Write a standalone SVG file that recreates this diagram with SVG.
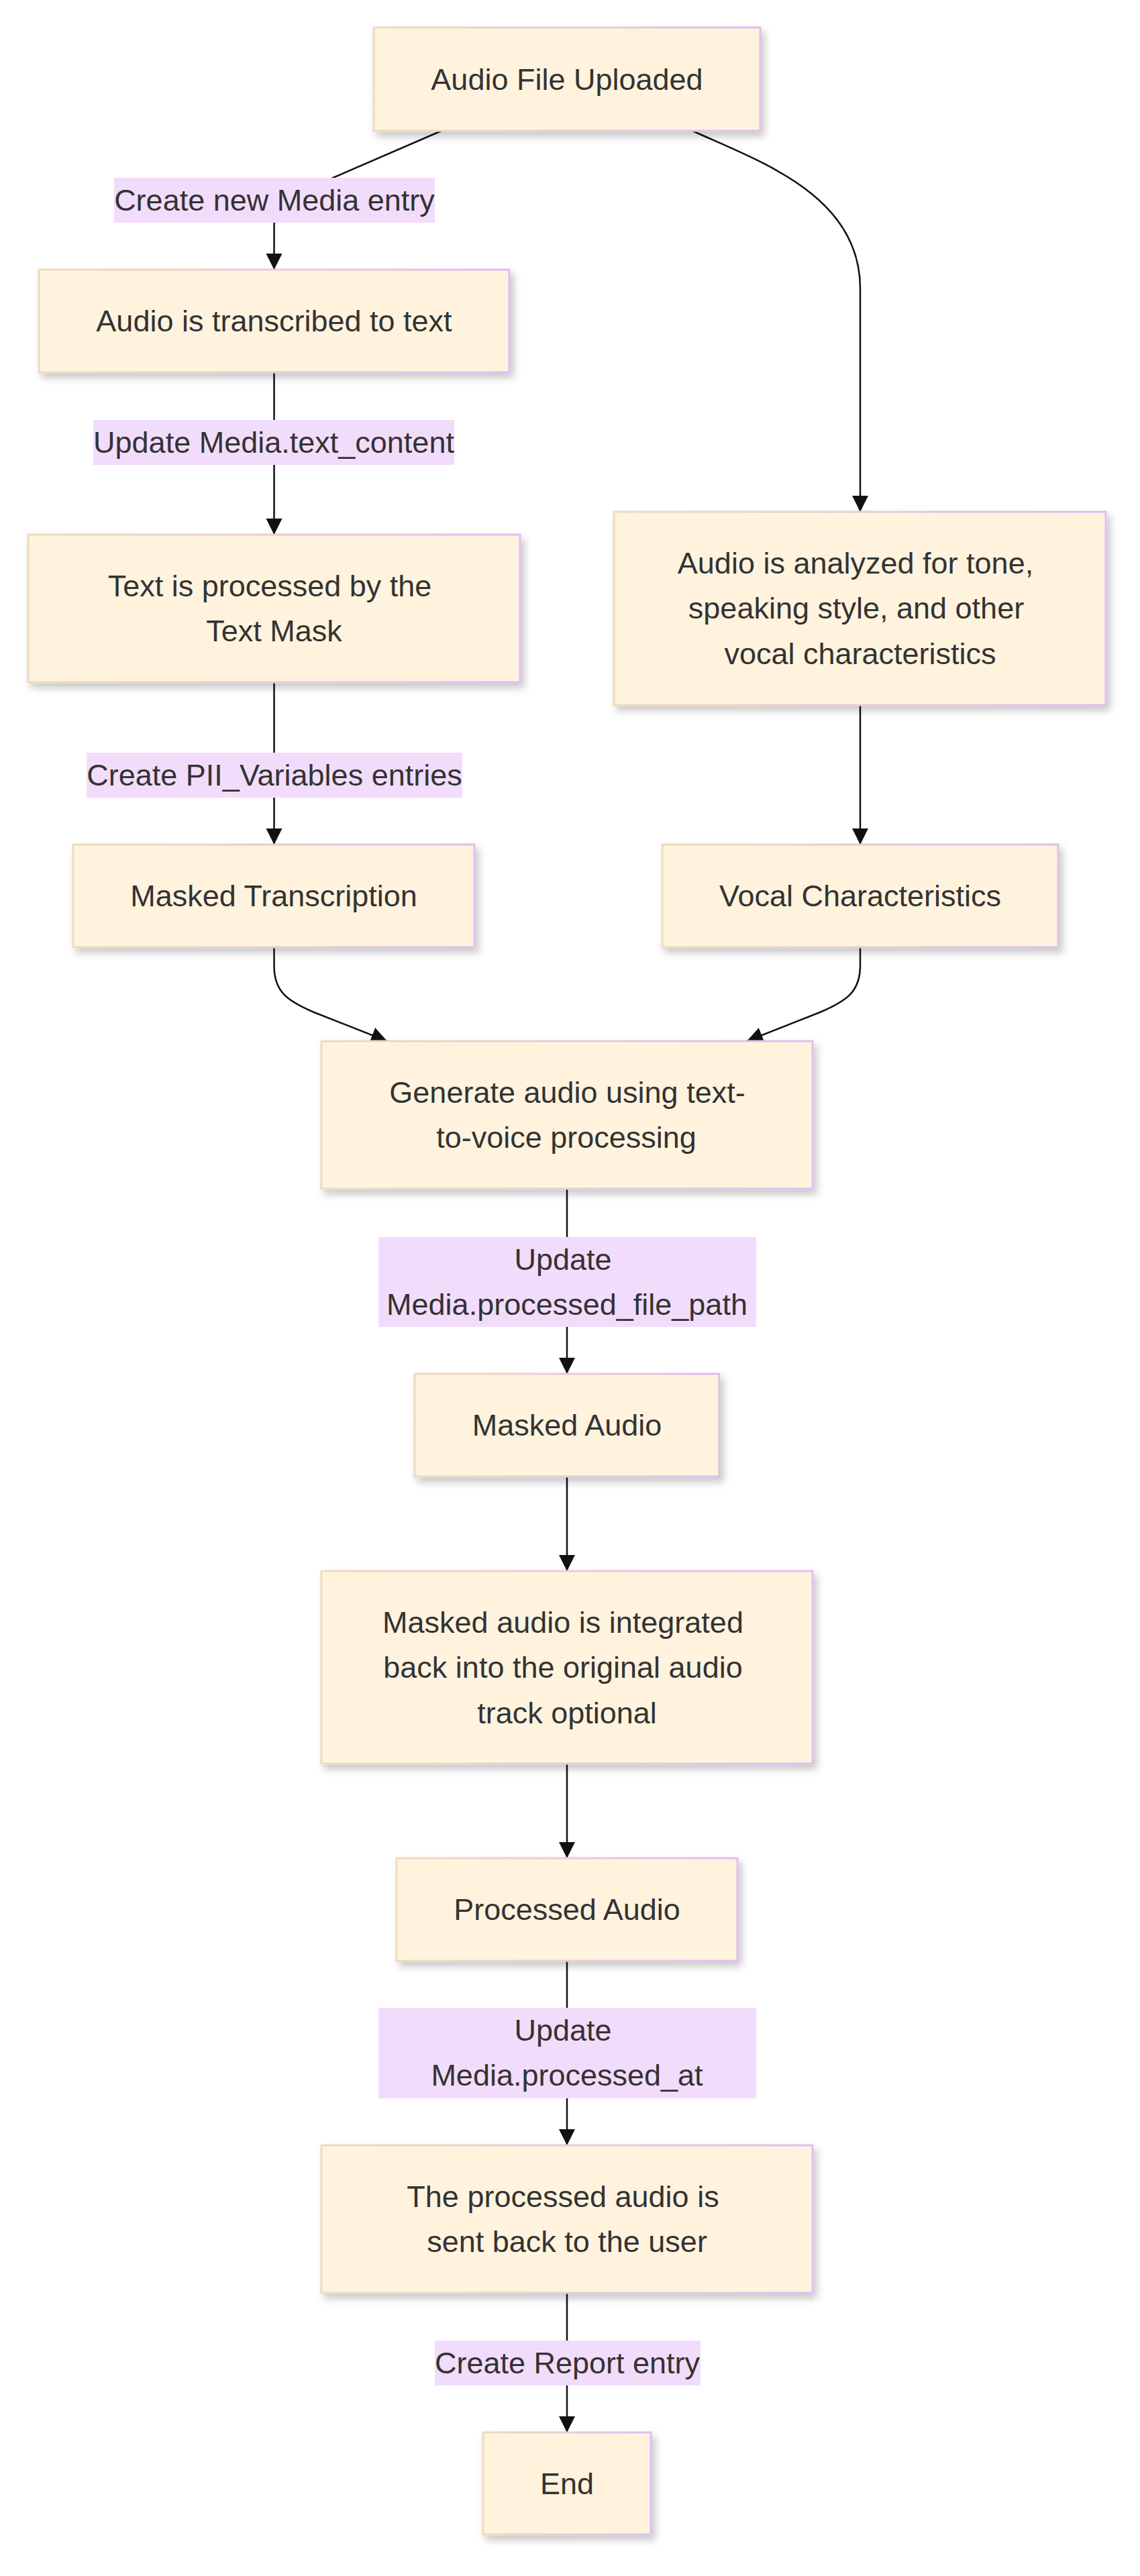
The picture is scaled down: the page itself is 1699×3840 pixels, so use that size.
<svg xmlns="http://www.w3.org/2000/svg" width="1699" height="3840" viewBox="0 0 1699 3840">
<style>
.node rect{fill:#fff3de;stroke:url(#bd);stroke-width:3;filter:url(#sh)}
.lbl rect{fill:#f2dcfc;stroke:none}
text{font-family:"Liberation Sans",Arial,sans-serif;font-size:45px;fill:#333;text-anchor:middle}
.edges path{fill:none;stroke:#111;stroke-width:2.5;marker-end:url(#ah)}
</style>
<defs>
<linearGradient id="bd" x1="0" y1="0" x2="1" y2="0">
<stop offset="0" stop-color="#ecdcbb"/>
<stop offset="1" stop-color="#dfbdf0"/>
</linearGradient>
<filter id="sh" x="-10%" y="-10%" width="125%" height="140%">
<feDropShadow dx="5" dy="7" stdDeviation="6" flood-color="#000" flood-opacity="0.22"/>
</filter>
<marker id="ah" markerUnits="userSpaceOnUse" markerWidth="26" markerHeight="26" refX="24" refY="12" orient="auto">
<path d="M0,0 L24,12 L0,24 z" fill="#111"/>
</marker>
</defs>
<rect width="1699" height="3840" fill="#fff"/>
<g class="edges">
<path d="M658,195 L480,272 Q408.5,302 408.5,335 L408.5,402"/>
<path d="M1032,195 C1130,240 1282,290 1282,430 L1282,763"/>
<path d="M408.5,555 L408.5,797"/>
<path d="M408.5,1017 L408.5,1259"/>
<path d="M1282,1051 L1282,1259"/>
<path d="M408.5,1412 L408.5,1440 C408.5,1478 428,1492 468,1509 L577,1552"/>
<path d="M1282,1412 L1282,1440 C1282,1478 1262,1492 1222,1509 L1113,1552"/>
<path d="M845,1772 L845,2048"/>
<path d="M845,2201 L845,2342"/>
<path d="M845,2629 L845,2770"/>
<path d="M845,2923 L845,3198"/>
<path d="M845,3418 L845,3626"/>
</g>
<g id="labels">
<g class="lbl" id="l1"><rect x="170" y="265" width="478" height="67"/><text x="409" y="314">Create new Media entry</text></g>
<g class="lbl" id="l2"><rect x="139" y="626" width="538" height="67"/><text x="408" y="675">Update Media.text_content</text></g>
<g class="lbl" id="l3"><rect x="129" y="1122" width="560" height="67"/><text x="409" y="1171">Create PII_Variables entries</text></g>
<g class="lbl" id="l4"><rect x="564" y="1844" width="563" height="134"/><text x="839" y="1893">Update</text><text x="845" y="1960">Media.processed_file_path</text></g>
<g class="lbl" id="l5"><rect x="564" y="2993" width="563" height="135"/><text x="839" y="3042">Update</text><text x="845" y="3109">Media.processed_at</text></g>
<g class="lbl" id="l6"><rect x="648" y="3489" width="396" height="67"/><text x="845.5" y="3538">Create Report entry</text></g>
</g>
<g class="node" id="n1"><rect x="557" y="41" width="576" height="154"/><text x="845" y="134">Audio File Uploaded</text></g>
<g class="node" id="n2"><rect x="58" y="402" width="701" height="153"/><text x="408.5" y="494">Audio is transcribed to text</text></g>
<g class="node" id="n3"><rect x="42" y="797" width="733" height="220"/><text x="402" y="889">Text is processed by the</text><text x="408.5" y="956">Text Mask</text></g>
<g class="node" id="n4"><rect x="915" y="763" width="733" height="288"/><text x="1275" y="855">Audio is analyzed for tone,</text><text x="1276" y="922">speaking style, and other</text><text x="1282" y="990">vocal characteristics</text></g>
<g class="node" id="n5"><rect x="109" y="1259" width="598" height="153"/><text x="408" y="1351">Masked Transcription</text></g>
<g class="node" id="n6"><rect x="987" y="1259" width="590" height="153"/><text x="1282" y="1351">Vocal Characteristics</text></g>
<g class="node" id="n7"><rect x="479" y="1552" width="732" height="220"/><text x="845.5" y="1644">Generate audio using text-</text><text x="844" y="1711">to-voice processing</text></g>
<g class="node" id="n8"><rect x="618" y="2048" width="454" height="153"/><text x="845" y="2140">Masked Audio</text></g>
<g class="node" id="n9"><rect x="479" y="2342" width="732" height="287"/><text x="839" y="2434">Masked audio is integrated</text><text x="839" y="2501">back into the original audio</text><text x="845" y="2569">track optional</text></g>
<g class="node" id="n10"><rect x="591" y="2770" width="508" height="153"/><text x="845" y="2862">Processed Audio</text></g>
<g class="node" id="n11"><rect x="479" y="3198" width="732" height="220"/><text x="839" y="3290">The processed audio is</text><text x="845" y="3357">sent back to the user</text></g>
<g class="node" id="n12"><rect x="720" y="3626" width="250" height="152"/><text x="845" y="3718">End</text></g>
</svg>
